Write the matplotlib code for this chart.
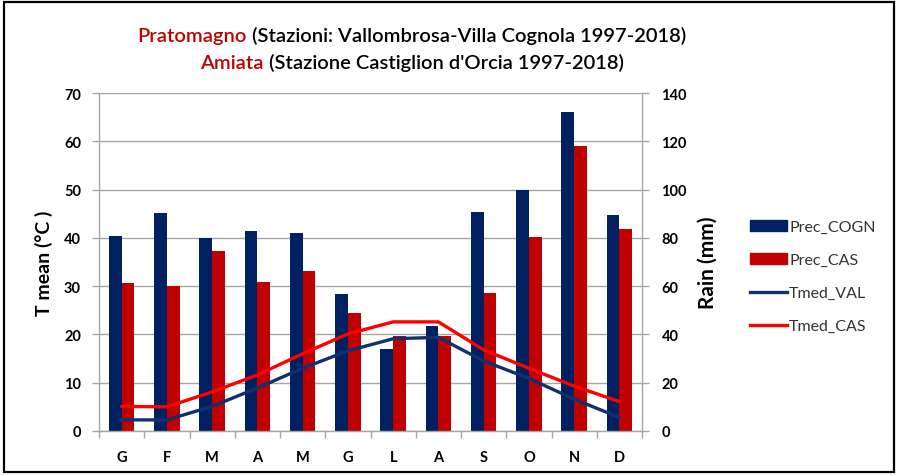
import matplotlib
matplotlib.use("Agg")
import matplotlib.pyplot as plt
import numpy as np
from matplotlib.offsetbox import TextArea, HPacker, AnnotationBbox
from matplotlib.patches import Rectangle, Patch
from matplotlib.lines import Line2D

months = ["G", "F", "M", "A", "M", "G", "L", "A", "S", "O", "N", "D"]
prec_cogn = [80.6, 90.2, 80.1, 82.7, 82.0, 56.6, 34.1, 43.4, 90.8, 99.8, 132.1, 89.3]
prec_cas = [61.4, 59.9, 74.7, 61.9, 66.1, 48.9, 39.2, 39.2, 57.0, 80.2, 118.2, 83.5]
tmed_val = [2.3, 2.3, 5.1, 8.9, 13.0, 16.6, 19.1, 19.4, 14.5, 10.9, 6.6, 2.8]
tmed_cas = [5.1, 5.0, 8.1, 11.6, 16.0, 20.1, 22.6, 22.6, 16.8, 13.0, 9.3, 6.1]

BLUE = "#002060"
DRED = "#C00000"
LBLUE = "#13306E"
RED = "#FF0000"
GRID = "#A6A6A6"
FONT = "Lato"

fig = plt.figure(figsize=(9.05, 4.77), dpi=100)
ax = fig.add_axes([99/905, 1-432/477, (642-99)/905, (432-94)/477])
ax2 = ax.twinx()

x = np.arange(len(months))
w = 0.28
ax2.bar(x - w/2, prec_cogn, width=w, color=BLUE, label="Prec_COGN")
ax2.bar(x + w/2, prec_cas, width=w, color=DRED, label="Prec_CAS")
ax2.set_ylim(0, 140)
ax2.set_yticks(np.arange(0, 141, 20))
ax2.grid(axis="y", color=GRID, lw=1.0)
ax2.set_axisbelow(True)

ax.plot(x, tmed_val, color=LBLUE, lw=2.4, label="Tmed_VAL", solid_capstyle="round")
ax.plot(x, tmed_cas, color=RED, lw=2.4, label="Tmed_CAS", solid_capstyle="round")
ax.set_ylim(0, 70)
ax.set_yticks(np.arange(0, 71, 10))
ax.set_xlim(-0.5, 11.5)
ax.set_xticks(x)
ax.set_xticklabels(months)
ax.set_xticks(np.arange(-0.5, 12, 1), minor=True)
ax.tick_params(axis="x", which="major", length=0, pad=14)
ax.tick_params(axis="x", which="minor", length=5, color=GRID, width=1)
ax.tick_params(axis="y", length=5, color=GRID, width=1, pad=8)
ax2.tick_params(axis="y", length=5, color=GRID, width=1, pad=9)

ax.set_zorder(ax2.get_zorder() + 1)
ax.patch.set_visible(False)

for s in ["top", "right"]:
    ax.spines[s].set_visible(False)
for s in ["top", "left", "bottom"]:
    ax2.spines[s].set_visible(False)
for sp in [ax.spines["left"], ax.spines["bottom"], ax2.spines["right"]]:
    sp.set_color(GRID)
    sp.set_linewidth(1.0)

for lab in ax.get_yticklabels() + ax2.get_yticklabels() + ax.get_xticklabels():
    lab.set_fontfamily(FONT)
    lab.set_fontweight("bold")
    lab.set_fontsize(10.5)

ax.set_ylabel("T mean (°C )", fontfamily=FONT, fontweight="bold", fontsize=14, labelpad=8)
ax2.set_ylabel("Rain (mm)", fontfamily=FONT, fontweight="bold", fontsize=15, labelpad=8)

handles = [Patch(color=BLUE), Patch(color=DRED),
           Line2D([], [], color=LBLUE, lw=2.4), Line2D([], [], color=RED, lw=2.4)]
labels = ["Prec_COGN", "Prec_CAS", "Tmed_VAL", "Tmed_CAS"]
leg = fig.legend(handles, labels, loc="upper left", bbox_to_anchor=(750/905, 1-221/477),
                 frameon=False, prop={"family": FONT, "size": 11.5},
                 handlelength=2.3, handleheight=0.72, handletextpad=0.15,
                 labelspacing=1.17, borderpad=0, borderaxespad=0)
for t in leg.get_texts():
    t.set_color("#333333")

tp = {"family": FONT, "size": 14.5, "weight": "semibold"}
line1 = HPacker(children=[TextArea("Pratomagno", textprops=dict(color=DRED, **tp)),
                          TextArea(" (Stazioni: Vallombrosa-Villa Cognola 1997-2018)", textprops=dict(color="black", **tp))],
                sep=0, pad=0, align="baseline")
line2 = HPacker(children=[TextArea("Amiata", textprops=dict(color=DRED, **tp)),
                          TextArea(" (Stazione Castiglion d'Orcia 1997-2018)", textprops=dict(color="black", **tp))],
                sep=0, pad=0, align="baseline")
for box, yy in [(line1, 36), (line2, 63)]:
    ab = AnnotationBbox(box, (412/905, 1-yy/477), xycoords="figure fraction",
                        frameon=False, box_alignment=(0.5, 0.5), pad=0)
    fig.add_artist(ab)

fig.add_artist(Rectangle((4/905, 4/477), 890/905, 470/477, transform=fig.transFigure,
                         fill=False, edgecolor="black", lw=1.6))

fig.savefig("out.png", dpi=100)
